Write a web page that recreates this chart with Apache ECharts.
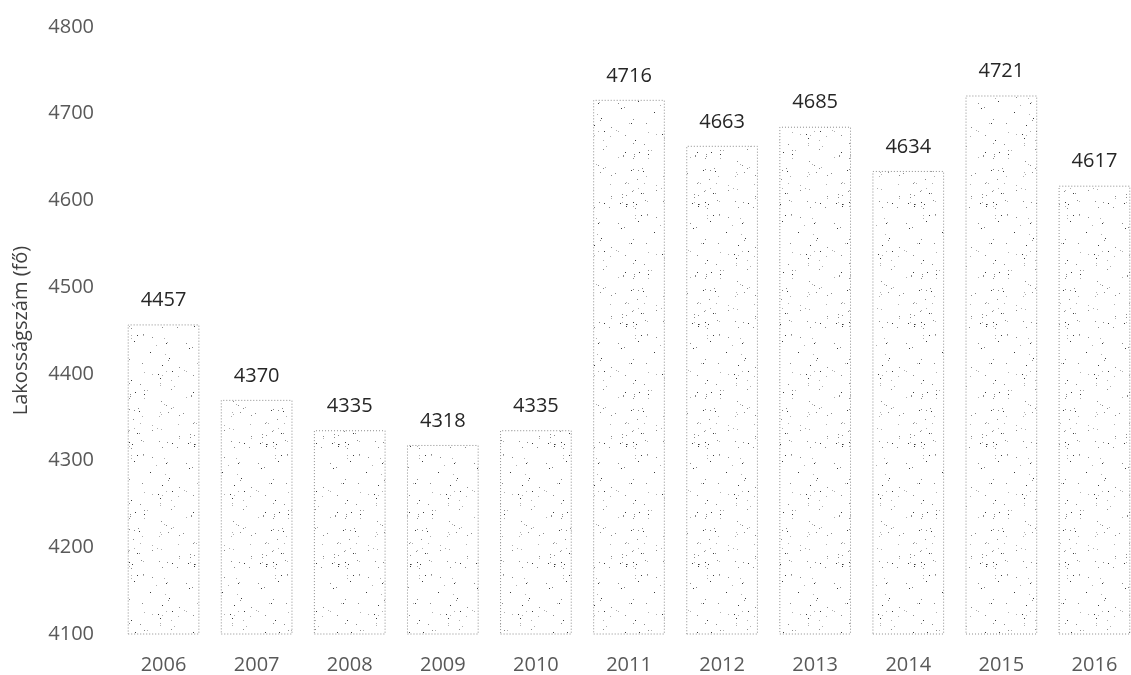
<!DOCTYPE html>
<html>
<head>
<meta charset="utf-8">
<script src="https://cdn.jsdelivr.net/npm/echarts@6/dist/echarts.min.js"></script>
<style>
  html, body { margin: 0; padding: 0; background: #ffffff; overflow: hidden; }
  #chart { width: 1141px; height: 675px; }
</style>
</head>
<body>
<div id="chart"></div>
<script>
// Lakosságszám évenként
const years = ['2006', '2007', '2008', '2009', '2010', '2011', '2012', '2013', '2014', '2015', '2016'];
const population = [4457, 4370, 4335, 4318, 4335, 4716, 4663, 4685, 4634, 4721, 4617];
const yTicks = { min: 4100, max: 4800, step: 100 };

// Stippled fill texture for the bars (deterministic pseudo-random dots)
function stippleTexture() {
  const w = 72, h = 120;
  const c = document.createElement('canvas');
  c.width = w; c.height = h;
  const ctx = c.getContext('2d');
  ctx.fillStyle = '#ffffff';
  ctx.fillRect(0, 0, w, h);
  let s = 12345;
  const next = () => { s = (s * 1103515245 + 12345) % 2147483648; return s / 2147483648; };
  const count = Math.round(w * h / 80);
  for (let i = 0; i < count; i++) {
    const x = Math.floor(next() * w);
    const y = Math.floor(next() * h);
    const r = next();
    ctx.fillStyle = r < 0.3 ? '#3a3a3a' : (r < 0.65 ? '#8a8a8a' : '#b0b0b0');
    ctx.fillRect(x, y, 1, 1);
  }
  return c;
}

const chart = echarts.init(document.getElementById('chart'), null, { renderer: 'canvas' });
const fontFamily = '"Open Sans", "Noto Sans", sans-serif';

chart.setOption({
  backgroundColor: '#ffffff',
  animation: false,
  grid: { left: 117, right: 0, top: 27, bottom: 40, containLabel: false },
  xAxis: {
    type: 'category',
    data: years,
    axisLine: { show: false },
    axisTick: { show: false },
    axisLabel: { color: '#595959', fontSize: 20, fontFamily: fontFamily, margin: 21 }
  },
  yAxis: {
    type: 'value',
    min: yTicks.min,
    max: yTicks.max,
    interval: yTicks.step,
    name: 'Lakosságszám (fő)',
    nameLocation: 'middle',
    nameGap: 86,
    nameRotate: 90,
    nameTextStyle: { color: '#404040', fontSize: 20, fontFamily: fontFamily },
    axisLine: { show: false },
    axisTick: { show: false },
    splitLine: { show: false },
    axisLabel: {
      color: '#595959', fontSize: 20, fontFamily: fontFamily, margin: 23,
      formatter: (v) => String(v)
    }
  },
  series: [{
    type: 'bar',
    data: population,
    barCategoryGap: '23%',
    itemStyle: {
      color: { image: stippleTexture(), repeat: 'repeat' },
      borderColor: '#8c8c8c',
      borderWidth: 1,
      borderType: [1, 2]
    },
    label: {
      show: true,
      position: 'top',
      distance: 14,
      color: '#262626',
      fontSize: 20,
      fontFamily: fontFamily
    }
  }]
});
</script>
</body>
</html>
